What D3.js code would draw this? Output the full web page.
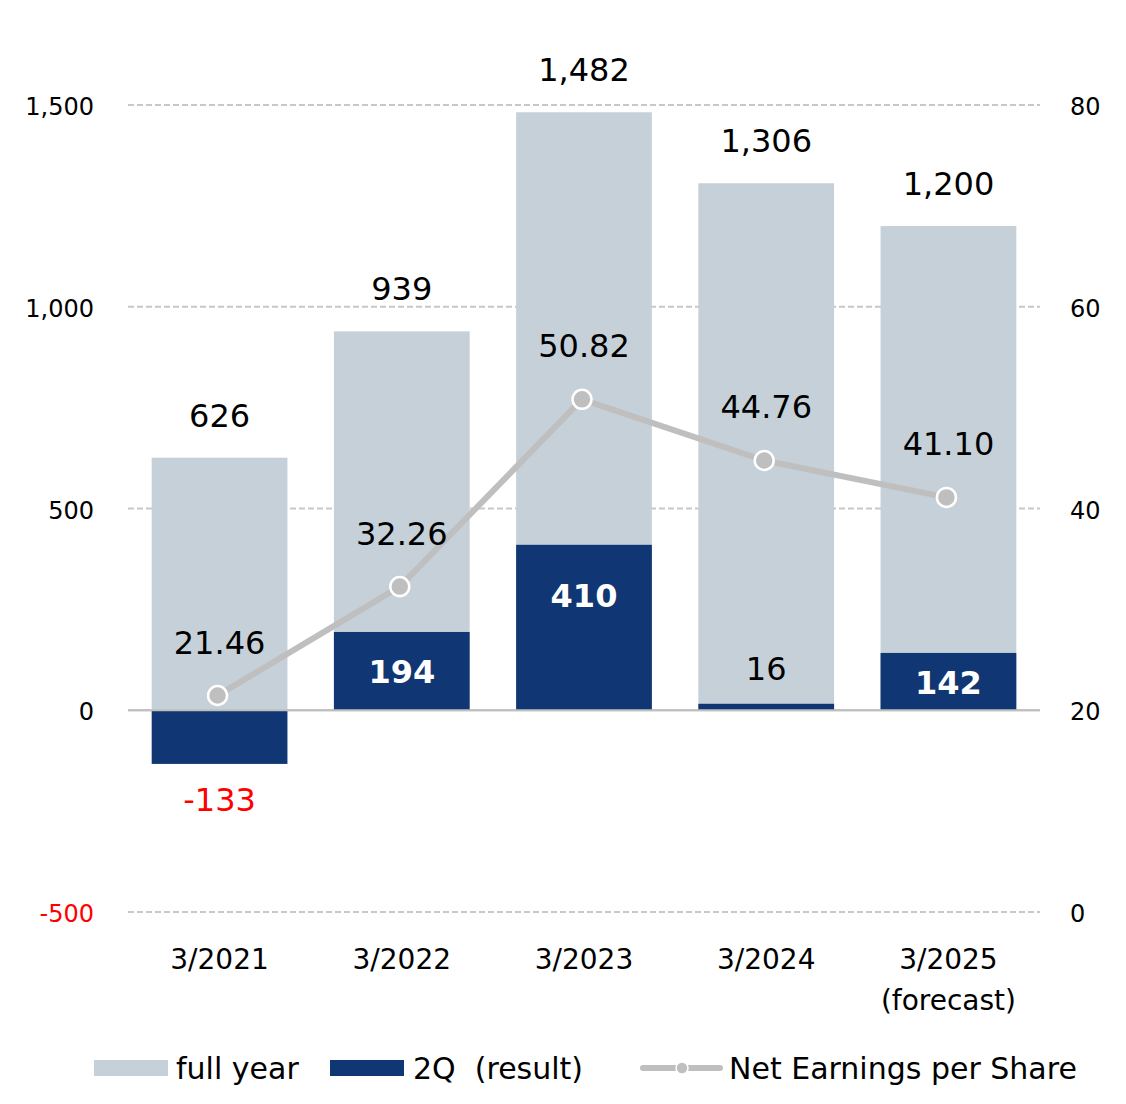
<!DOCTYPE html>
<html><head><meta charset="utf-8">
<script src="https://cdn.jsdelivr.net/npm/d3@7"></script>
<style>body{margin:0;background:#fff}svg{font-family:"DejaVu Sans",Verdana,sans-serif}</style>
</head><body>
<svg id="c" width="1126" height="1104"></svg>
<script>
const categories = ["3/2021","3/2022","3/2023","3/2024","3/2025"];
const categorySub = ["","","","","(forecast)"];
const fullYear = [626, 939, 1482, 1306, 1200];
const q2 = [-133, 194, 410, 16, 142];
const eps = [21.46, 32.26, 50.82, 44.76, 41.10];
const leftTicks = [-500, 0, 500, 1000, 1500];
const rightTicks = [0, 20, 40, 60, 80];

const svg = d3.select("#c");
const fmt = v => d3.format(",")(v).replace("\u2212", "-");
const x = d3.scaleBand().domain(categories).range([128, 1040]).paddingInner(0.255).paddingOuter(0.13);
const yL = d3.scaleLinear().domain([-500, 1500]).range([912, 105]);
const yR = d3.scaleLinear().domain([0, 80]).range([912, 105]);
const grey = "#c5d0d8", navy = "#103673", lineC = "#bfbfbf";

// gridlines
svg.append("g").selectAll("line").data(leftTicks).join("line")
  .attr("x1", 128).attr("x2", 1040)
  .attr("y1", d => yL(d)).attr("y2", d => yL(d))
  .attr("stroke", d => d === 0 ? "#bfbfbf" : "#c8c8c8")
  .attr("stroke-width", d => d === 0 ? 2 : 1.8)
  .attr("stroke-dasharray", d => d === 0 ? null : "6,3");

// axes (labels only)
const gl = svg.append("g").attr("transform", "translate(94,2)")
  .call(d3.axisLeft(yL).tickValues(leftTicks).tickSize(0).tickPadding(0).tickFormat(fmt));
gl.select(".domain").remove();
gl.selectAll("text").attr("font-size", 24).attr("font-family", "DejaVu Sans, Verdana, sans-serif")
  .attr("fill", d => d < 0 ? "#ff0000" : "#000");
const gr = svg.append("g").attr("transform", "translate(1070,2)")
  .call(d3.axisRight(yR).tickValues(rightTicks).tickSize(0).tickPadding(0));
gr.select(".domain").remove();
gr.selectAll("text").attr("font-size", 24).attr("font-family", "DejaVu Sans, Verdana, sans-serif").attr("fill", "#000");

// bars
const bw = x.bandwidth();
svg.append("g").selectAll("rect").data(categories).join("rect")
  .attr("x", d => x(d)).attr("width", bw)
  .attr("y", (d, i) => yL(fullYear[i])).attr("height", (d, i) => yL(0) - yL(fullYear[i]))
  .attr("fill", grey);
svg.append("g").selectAll("rect").data(categories).join("rect")
  .attr("x", d => x(d)).attr("width", bw)
  .attr("y", (d, i) => yL(Math.max(0, q2[i]))).attr("height", (d, i) => Math.abs(yL(0) - yL(q2[i])))
  .attr("fill", navy);

// redraw zero line on top
svg.append("line").attr("x1", 128).attr("x2", 1040).attr("y1", yL(0)).attr("y2", yL(0))
  .attr("stroke", "#bfbfbf").attr("stroke-width", 2);

// full-year labels
svg.append("g").selectAll("text").data(categories).join("text")
  .attr("x", d => x(d) + bw / 2).attr("y", (d, i) => yL(fullYear[i]) - 31)
  .attr("text-anchor", "middle").attr("font-size", 32).attr("fill", "#000")
  .text((d, i) => fmt(fullYear[i]));

// 2Q labels
svg.append("g").selectAll("text").data(categories).join("text")
  .attr("x", d => x(d) + bw / 2)
  .attr("y", (d, i) => {
    const v = q2[i];
    if (v < 0) return yL(v) + 47;
    const top = yL(v), h = yL(0) - top;
    if (h < 40) return top - 24;
    return Math.min(top + h / 2, top + 50) + 12;
  })
  .attr("text-anchor", "middle").attr("font-size", 32)
  .attr("font-weight", (d, i) => (q2[i] > 0 && yL(0) - yL(q2[i]) >= 40) ? "bold" : "normal")
  .attr("fill", (d, i) => q2[i] < 0 ? "#ff0000" : (yL(0) - yL(q2[i]) >= 40 ? "#fff" : "#000"))
  .text((d, i) => fmt(q2[i]));

// EPS line
const cx = (d, i) => x(categories[i]) + bw / 2 - 2;
const line = d3.line().x((d, i) => cx(d, i)).y(d => yR(d));
svg.append("path").datum(eps).attr("d", line).attr("fill", "none")
  .attr("stroke", lineC).attr("stroke-width", 6).attr("stroke-linejoin", "round");
svg.append("g").selectAll("circle").data(eps).join("circle")
  .attr("cx", cx).attr("cy", d => yR(d)).attr("r", 9.5)
  .attr("fill", lineC).attr("stroke", "#fff").attr("stroke-width", 2.5);
svg.append("g").selectAll("text").data(eps).join("text")
  .attr("x", (d, i) => x(categories[i]) + bw / 2).attr("y", d => yR(d) - 42)
  .attr("text-anchor", "middle").attr("font-size", 32).attr("fill", "#000")
  .text(d => d3.format(".2f")(d));

// category labels
const gx = svg.append("g");
gx.selectAll("text.c").data(categories).join("text").attr("class", "c")
  .attr("x", d => x(d) + bw / 2).attr("y", 969).attr("text-anchor", "middle")
  .attr("font-size", 28).text(d => d);
gx.selectAll("text.s").data(categories).join("text").attr("class", "s")
  .attr("x", d => x(d) + bw / 2).attr("y", 1010).attr("text-anchor", "middle")
  .attr("font-size", 28).text((d, i) => categorySub[i]);

// legend
const lg = svg.append("g").attr("font-size", 30);
lg.append("rect").attr("x", 94).attr("y", 1060).attr("width", 74).attr("height", 16).attr("fill", grey);
lg.append("text").attr("x", 176).attr("y", 1079).text("full year");
lg.append("rect").attr("x", 330).attr("y", 1060).attr("width", 74).attr("height", 16).attr("fill", navy);
lg.append("text").attr("x", 413).attr("y", 1079).attr("xml:space", "preserve").text("2Q  (result)");
lg.append("line").attr("x1", 643).attr("x2", 720).attr("y1", 1068).attr("y2", 1068)
  .attr("stroke", lineC).attr("stroke-width", 6).attr("stroke-linecap", "round");
lg.append("circle").attr("cx", 682).attr("cy", 1068).attr("r", 6).attr("fill", lineC).attr("stroke", "#fff").attr("stroke-width", 1.5);
lg.append("text").attr("x", 729).attr("y", 1079).text("Net Earnings per Share");
</script>
</body></html>
